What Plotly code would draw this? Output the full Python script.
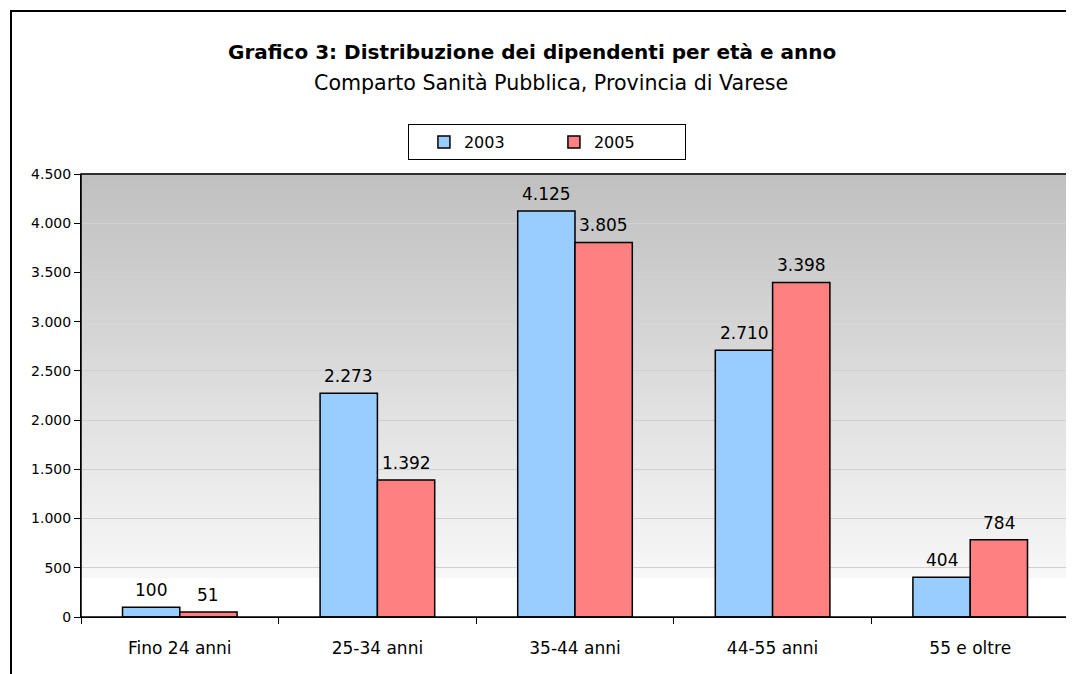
import plotly.graph_objects as go

categories = ["Fino 24 anni", "25-34 anni", "35-44 anni", "44-55 anni", "55 e oltre"]
values_2003 = [100, 2273, 4125, 2710, 404]
values_2005 = [51, 1392, 3805, 3398, 784]
years = ["2003", "2005"]

FONT = "DejaVu Sans"

fig = go.Figure()
fig.add_bar(
    x=categories, y=values_2003, name=years[0],
    marker=dict(color="#99CCFF", line=dict(color="black", width=1.5)),
)
fig.add_bar(
    x=categories, y=values_2005, name=years[1],
    marker=dict(color="#FF8080", line=dict(color="black", width=1.5)),
)

# value labels above the bars (half a bar width left / right of the category centre)
annotations = []
for vals, shift in [(values_2003, -28.6), (values_2005, 28.6)]:
    for cat, v in zip(categories, vals):
        annotations.append(dict(
            x=cat, y=v, xref="x", yref="y", text=f"{v:,}".replace(",", "."),
            xshift=shift, yshift=5, yanchor="bottom", showarrow=False,
            font=dict(size=17, color="black"),
        ))

annotations += [
    dict(text="<b>Grafico 3: Distribuzione dei dipendenti per età e anno</b>",
         xref="paper", yref="paper", x=0.4565, y=1 + 122 / 443, xanchor="center",
         yanchor="middle", showarrow=False, font=dict(size=20)),
    dict(text="Comparto Sanità Pubblica, Provincia di Varese",
         xref="paper", yref="paper", x=0.4757, y=1 + 91 / 443, xanchor="center",
         yanchor="middle", showarrow=False, font=dict(size=20.6)),
]

# gradient background of the plot area (gray on top, fading to white)
shapes = []
n = 60
y_low = 0.088
for i in range(n):
    f0 = y_low + (1 - y_low) * i / n
    f1 = y_low + (1 - y_low) * (i + 1) / n
    t = (i + 0.5) / n
    g = int(248 - (248 - 192) * t)
    shapes.append(dict(
        type="rect", xref="x domain", yref="y domain",
        x0=0, x1=1, y0=f0, y1=f1 + 0.002,
        fillcolor=f"rgb({g},{g},{g})", line=dict(width=0), layer="below",
    ))
# frame around the plot area
shapes.append(dict(type="rect", xref="x domain", yref="y domain", x0=0, x1=1, y0=0, y1=1,
                   line=dict(color="black", width=1.5), layer="above"))
# outer chart border (left and top edges visible)
shapes.append(dict(type="rect", xref="paper", yref="paper",
                   x0=-70 / 988, x1=1.2, y0=-0.3, y1=1 + 163 / 443,
                   line=dict(color="black", width=2)))

fig.update_layout(
    width=1074, height=674,
    margin=dict(l=73, r=13, t=166, b=65),
    paper_bgcolor="white", plot_bgcolor="white",
    separators=",.",
    font=dict(family=FONT, color="black"),
    barmode="group", bargap=0.42, bargroupgap=0,
    shapes=shapes,
    annotations=annotations,
    legend=dict(
        orientation="h", x=0.4715, y=1 + 14 / 443, xanchor="center", yanchor="bottom",
        bordercolor="black", borderwidth=1, bgcolor="white",
        font=dict(size=16), traceorder="normal", entrywidth=85,
        itemwidth=30, tracegroupgap=0,
        title=dict(text="&nbsp;", font=dict(size=16)),
    ),
    showlegend=True,
)
fig.update_xaxes(
    showgrid=False, ticks="outside", tickson="boundaries", ticklen=6,
    tickcolor="black", linecolor="black", showline=True,
    tickfont=dict(size=17), ticklabelstandoff=16,
)
fig.update_yaxes(
    range=[0, 4500], dtick=500, tickformat=",d",
    showgrid=True, gridcolor="#d0d0d0", gridwidth=1,
    ticks="outside", ticklen=6, tickcolor="black",
    showline=True, linecolor="black", zeroline=False,
    tickfont=dict(size=14),
)

fig.write_html("out.html")
